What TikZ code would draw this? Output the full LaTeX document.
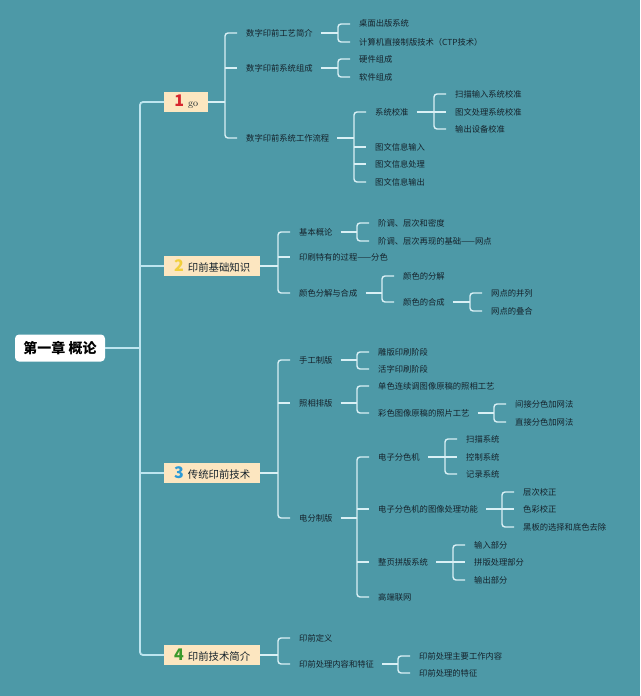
\documentclass[tikz,border=0pt]{standalone}
\usepackage{fontspec}
\newfontfamily\cjk{Noto Sans CJK SC}
\usetikzlibrary{calc}
\definecolor{bg}{HTML}{4D99A7}
\definecolor{linec}{HTML}{D9F0F5}
\definecolor{trunkc}{HTML}{BDE5EF}
\definecolor{txt}{HTML}{15222B}
\definecolor{beige}{HTML}{FCE6C0}
\definecolor{numa}{HTML}{D7262E}
\definecolor{numb}{HTML}{F2CF3B}
\definecolor{numc}{HTML}{2C9AD6}
\definecolor{numd}{HTML}{3B9A2C}
\tikzset{
  conn/.style={draw=linec, line width=1.4pt},
  trunk/.style={draw=trunkc, line width=1.8pt},
  leaf/.style={anchor=west, inner sep=0pt, text=txt, font=\cjk\fontsize{8.3}{10}\selectfont, text height=7pt, text depth=1pt},
  secbox/.style={anchor=west, fill=beige, inner xsep=8pt, inner ysep=0pt, minimum height=20pt, minimum width=96pt, text=txt, font=\cjk\fontsize{10.4}{12}\selectfont},
  rootbox/.style={fill=white, rounded corners=4pt, minimum width=90pt, minimum height=27pt, inner sep=0pt, text=black, font=\cjk\bfseries\fontsize{14}{16}\selectfont},
}
\newcommand\grp[4][8pt]{%
  \draw[conn] let \p1=(#3.west), \p2=(#2.east) in (\x2+#1,\y2) -- (\x1-21pt,\y2);
  \draw[conn, rounded corners=3pt] let \p1=(#3.west), \p2=(#4.west) in (\x1-9pt,\y1) -- (\x1-21pt,\y1) -- (\x2-21pt,\y2) -- (\x2-9pt,\y2);
}
\newcommand\midstub[1]{%
  \draw[conn] let \p1=(#1.west) in (\x1-21pt,\y1) -- (\x1-9pt,\y1);
}
\newcommand\num[2]{{\color{#1}\bfseries\fontsize{16}{16}\selectfont #2}\hspace{4pt}}
\begin{document}
\begin{tikzpicture}[x=1pt,y=-1pt]
\path[fill=bg] (0,0) rectangle (640,696);
\useasboundingbox (0,0) rectangle (640,696);

% root and sections
\node[rootbox] (R) at (60,348) {第一章 概论};
\node[secbox, minimum width=44pt, inner xsep=6pt] (B1) at (164,102) {\num{numa}{1}{\rmfamily\fontsize{10}{10}\selectfont go}};
\node[secbox] (B2) at (164,266) {\num{numb}{2}印前基础知识};
\node[secbox] (B3) at (164,473) {\num{numc}{3}传统印前技术};
\node[secbox] (B4) at (164,655) {\num{numd}{4}印前技术简介};

% section 1
\node[leaf] (a1) at (246,33) {数字印前工艺简介};
\node[leaf] (a2) at (246,68) {数字印前系统组成};
\node[leaf] (a3) at (246,138) {数字印前系统工作流程};
\node[leaf] (a11) at (359,24) {桌面出版系统};
\node[leaf] (a12) at (359,42) {计算机直接制版技术（CTP技术）};
\node[leaf] (a21) at (359,59) {硬件组成};
\node[leaf] (a22) at (359,77) {软件组成};
\node[leaf] (a31) at (375,112) {系统校准};
\node[leaf] (a32) at (375,147) {图文信息输入};
\node[leaf] (a33) at (375,164) {图文信息处理};
\node[leaf] (a34) at (375,182) {图文信息输出};
\node[leaf] (a311) at (455,94) {扫描输入系统校准};
\node[leaf] (a312) at (455,112) {图文处理系统校准};
\node[leaf] (a313) at (455,129) {输出设备校准};

% section 2
\node[leaf] (b1) at (299,232) {基本概论};
\node[leaf] (b2) at (299,257) {印刷特有的过程——分色};
\node[leaf] (b3) at (299,293) {颜色分解与合成};
\node[leaf] (b11) at (378,223) {阶调、层次和密度};
\node[leaf] (b12) at (378,241) {阶调、层次再现的基础——网点};
\node[leaf] (b31) at (403,276) {颜色的分解};
\node[leaf] (b32) at (403,302) {颜色的合成};
\node[leaf] (b321) at (491,293) {网点的并列};
\node[leaf] (b322) at (491,311) {网点的叠合};

% section 3
\node[leaf] (c1) at (299,360) {手工制版};
\node[leaf] (c2) at (299,403) {照相排版};
\node[leaf] (c3) at (299,518) {电分制版};
\node[leaf] (c11) at (378,352) {雕版印刷阶段};
\node[leaf] (c12) at (378,369) {活字印刷阶段};
\node[leaf] (c21) at (378,386) {单色连续调图像原稿的照相工艺};
\node[leaf] (c22) at (378,413) {彩色图像原稿的照片工艺};
\node[leaf] (c221) at (515,404) {间接分色加网法};
\node[leaf] (c222) at (515,422) {直接分色加网法};
\node[leaf] (c31) at (378,457) {电子分色机};
\node[leaf] (c32) at (378,509) {电子分色机的图像处理功能};
\node[leaf] (c33) at (378,562) {整页拼版系统};
\node[leaf] (c34) at (378,597) {高端联网};
\node[leaf] (c311) at (466,439) {扫描系统};
\node[leaf] (c312) at (466,457) {控制系统};
\node[leaf] (c313) at (466,474) {记录系统};
\node[leaf] (c321) at (523,492) {层次校正};
\node[leaf] (c322) at (523,509) {色彩校正};
\node[leaf] (c323) at (523,527) {黑板的选择和底色去除};
\node[leaf] (c331) at (474,545) {输入部分};
\node[leaf] (c332) at (474,562) {拼版处理部分};
\node[leaf] (c333) at (474,580) {输出部分};

% section 4
\node[leaf] (d1) at (299,638) {印前定义};
\node[leaf] (d2) at (299,664) {印前处理内容和特征};
\node[leaf] (d21) at (419,656) {印前处理主要工作内容};
\node[leaf] (d22) at (419,673) {印前处理的特征};

% trunk
\draw[trunk, rounded corners=3pt] let \p1=(B1.west), \p2=(B4.west) in (\p1) -- (\x1-24pt,\y1) -- (\x2-24pt,\y2) -- (\p2);
\draw[trunk] let \p1=(B1.west), \p2=(R.east) in (\p2) -- (\x1-24pt,\y2);
\draw[trunk] let \p1=(B1.west), \p2=(B2.west) in (\x1-24pt,\y2) -- (\p2);
\draw[trunk] let \p1=(B1.west), \p2=(B3.west) in (\x1-24pt,\y2) -- (\p2);

% brackets
\grp[0pt]{B1}{a1}{a3} \midstub{a2}
\grp{a1}{a11}{a12}
\grp{a2}{a21}{a22}
\grp{a3}{a31}{a34} \midstub{a32} \midstub{a33}
\grp{a31}{a311}{a313} \midstub{a312}

\grp[0pt]{B2}{b1}{b3} \midstub{b2}
\grp{b1}{b11}{b12}
\grp{b3}{b31}{b32}
\grp{b32}{b321}{b322}

\grp[0pt]{B3}{c1}{c3} \midstub{c2}
\grp{c1}{c11}{c12}
\grp{c2}{c21}{c22}
\grp{c22}{c221}{c222}
\grp{c3}{c31}{c34} \midstub{c32} \midstub{c33}
\grp{c31}{c311}{c313} \midstub{c312}
\grp{c32}{c321}{c323} \midstub{c322}
\grp{c33}{c331}{c333} \midstub{c332}

\grp[0pt]{B4}{d1}{d2}
\grp{d2}{d21}{d22}
\end{tikzpicture}
\end{document}
